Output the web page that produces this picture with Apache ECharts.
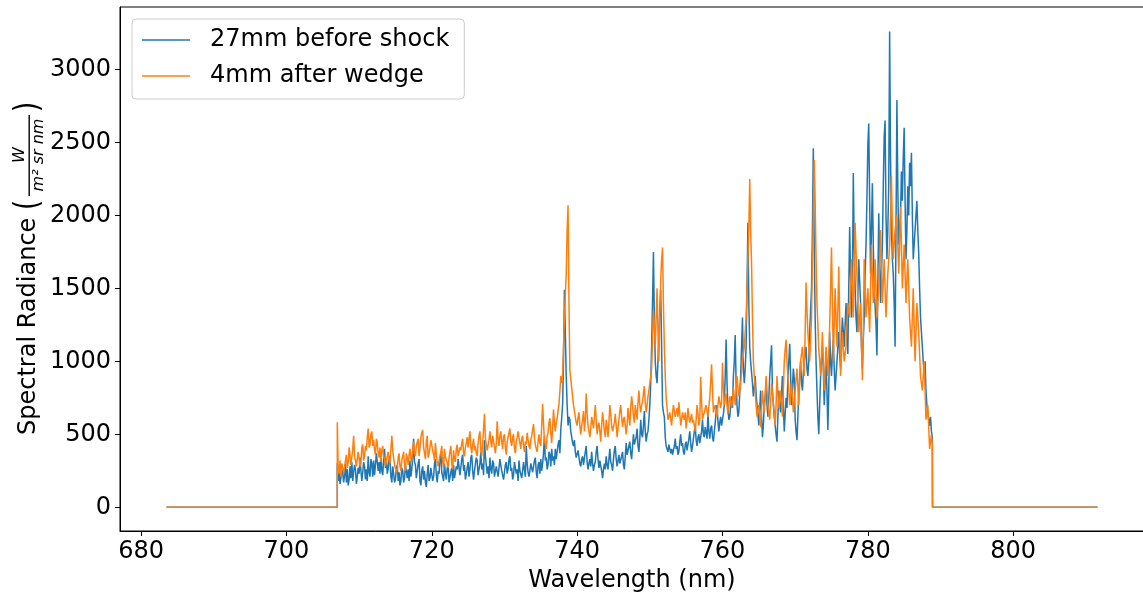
<!DOCTYPE html>
<html><head><meta charset="utf-8">
<script src="https://cdn.jsdelivr.net/npm/echarts@6/dist/echarts.min.js"></script>
<style>html,body{margin:0;padding:0;background:#fff}#c{width:1143px;height:592px}</style>
</head><body><div id="c"></div>
<script>
// Wavelength grid of the measured spectrum (nm)
const WL_START = 707.0;
const WL_STEP = 0.125;
// flat (zero) parts of the recorded range
const FLAT_LEFT = [[683.5, 0], [707.0, 0]];
const FLAT_RIGHT = [[788.9, 0], [811.6, 0]];
const X_TICKS = [680, 700, 720, 740, 760, 780, 800];
const Y_TICKS = [0, 500, 1000, 1500, 2000, 2500, 3000];
const SERIES_NAMES = ['27mm before shock', '4mm after wedge'];

// 27mm before shock, 707.000 .. 788.875 nm (8 values per nm)
const before = [
300,180,250,160,200,290,230,170, 220,300,170,260,150,190,280,200,
310,180,240,290,260,160,210,270, 230,340,250,180,240,310,280,190,
260,180,350,240,210,330,300,210, 320,220,290,370,380,250,310,230,
360,250,220,320,400,270,330,230, 260,350,330,210,170,280,230,170,
190,270,290,180,240,150,180,270, 250,170,200,290,300,200,260,180,
320,210,260,340,470,310,290,200, 210,300,330,180,150,250,280,190,
250,170,140,230,290,180,200,270, 280,180,210,300,330,220,170,250,
230,330,370,240,210,180,300,230, 190,270,300,170,160,240,270,180,
290,200,190,280,260,330,340,220, 230,330,360,250,290,190,180,270,
310,210,260,340,360,250,190,250, 250,340,320,220,210,300,380,260,
300,220,460,350,290,230,280,200, 340,260,230,320,300,210,200,280,
290,210,220,330,340,250,260,190, 200,290,310,230,260,330,350,250,
270,190,220,310,300,230,260,180, 320,250,240,200,250,310,300,210,
420,300,240,210,250,300,310,240, 250,320,340,240,200,290,310,230,
330,250,300,370,490,320,340,260, 290,380,360,280,400,320,350,290,
400,330,320,430,460,370,530,610, 700,1000,1490,1200,900,700,560,620,
600,520,480,440,420,460,380,340, 330,390,400,300,280,330,350,290,
300,380,420,310,260,300,330,280, 380,300,250,290,310,380,420,330,
270,320,330,250,200,260,300,260, 350,290,260,330,400,310,290,250,
330,390,420,330,280,320,360,300, 300,350,380,290,260,350,440,360,
360,420,450,370,330,420,500,430, 420,480,540,420,380,470,600,500,
480,560,660,520,450,500,520,600, 700,850,1100,1400,1750,1300,1000,900,
850,1000,1200,1350,1490,1100,700,650, 620,480,420,400,380,430,440,370,
400,360,350,420,470,400,420,360, 380,450,500,420,440,380,360,430,
450,390,400,470,520,440,380,420, 470,520,560,460,420,480,500,440,
430,520,600,500,480,550,540,470, 650,520,470,540,560,480,450,520,
580,650,700,590,520,580,620,560, 560,640,700,900,1150,850,680,600,
620,700,760,680,900,1000,1180,850, 700,620,650,780,900,1100,1300,950,
850,950,1100,1500,1950,1400,1100,1000, 1000,850,760,820,900,780,700,640,
560,680,800,620,480,560,700,760, 850,700,620,750,900,1000,1110,800,
700,620,560,500,450,620,800,700, 650,780,900,700,520,640,750,680,
880,1000,1120,900,700,820,950,880, 600,520,460,620,800,900,1000,850,
800,920,1000,1050,1100,950,900,1000, 1200,1350,1500,1900,2460,1800,1300,1000,
800,620,500,700,900,1000,1100,950, 700,850,1000,800,530,800,1200,1000,
900,1050,1150,950,800,900,1000,1100, 1200,1050,950,1150,1300,1200,1100,1250,
1400,1200,1050,1500,1920,1600,1300,1450, 2290,1800,1500,1300,1200,1450,1700,1550,
1400,1100,950,1150,1300,1600,1800,2100, 2480,2630,2100,1600,1900,2220,1800,1500,
1500,1250,1040,1500,2015,1700,1400,1600, 1800,2200,2540,2650,2000,1700,1900,2200,
3260,2400,1900,1700,1600,1400,1100,1900, 2790,2200,1800,1900,2000,2300,2100,2400,
2600,2100,1700,1900,2200,2000,2360,2200, 2430,2000,1700,1800,1900,2000,2100,1900,
1740,1500,1300,1200,1100,1000,900,1000, 800,700,650,600,560,620,520,480
];

// 4mm after wedge, 707.000 .. 788.875 nm (8 values per nm)
const after = [
583,250,230,320,210,300,290,230, 230,320,360,270,310,410,360,290,
280,400,490,350,320,280,330,380, 370,280,300,410,430,320,350,420,
390,480,540,410,430,500,520,420, 460,390,360,470,440,370,340,410,
310,390,420,350,330,280,270,350, 380,320,300,400,490,390,340,290,
290,240,260,340,370,280,250,320, 330,380,280,250,370,340,290,360,
400,330,310,410,450,370,350,420, 410,470,350,410,480,510,530,410,
370,330,450,490,340,370,410,460, 470,390,360,320,440,370,310,280,
290,350,380,420,310,270,400,350, 350,300,270,340,380,420,300,260,
390,330,310,400,430,350,340,410, 390,440,470,370,350,410,440,480,
410,470,520,420,370,430,470,390, 420,370,350,440,490,520,390,350,
430,540,640,470,460,390,390,460, 520,450,410,490,480,410,370,440,
590,470,420,490,520,450,400,480, 500,410,360,450,460,510,540,450,
420,480,500,400,370,450,480,520, 520,440,400,470,490,420,380,450,
430,510,500,420,400,460,490,530, 570,480,430,400,380,450,500,440,
420,560,710,570,460,430,400,490, 510,580,610,510,440,540,670,580,
520,580,610,660,710,790,900,850, 900,1100,1300,1450,1600,1900,2070,1400,
940,880,820,760,700,660,620,580, 560,620,650,560,500,560,600,660,
520,600,780,640,560,520,480,540, 620,580,540,620,700,600,500,560,
580,520,450,560,650,590,520,480, 600,550,480,580,700,640,560,520,
520,580,640,560,480,540,600,660, 700,620,550,600,620,560,500,560,
680,620,560,680,760,700,620,580, 700,650,600,720,800,700,650,700,
720,780,830,720,650,700,760,800, 800,900,950,1150,1350,1250,1100,1300,
1500,1200,1000,1300,1550,1700,1780,1400, 1100,900,750,680,600,620,650,600,
560,640,700,660,620,650,680,620, 720,640,560,600,650,620,600,650,
540,600,680,620,580,610,640,580, 600,560,520,600,700,640,560,600,
895,720,600,630,650,680,700,660, 620,690,750,860,980,800,650,680,
700,660,620,700,760,720,680,720, 990,820,700,740,780,700,640,700,
760,720,680,750,820,760,700,800, 900,820,760,800,850,920,1000,1050,
1100,1200,1300,1500,1700,1900,2250,1900, 1670,1300,1000,900,800,700,620,660,
700,620,550,680,800,720,650,760, 900,800,700,650,600,720,850,780,
720,640,560,700,900,780,680,740, 800,700,620,800,1000,1080,1150,1000,
900,800,700,780,850,750,650,720, 800,880,950,820,700,850,1000,1050,
1100,1000,900,1200,1540,1350,1200,1100, 1000,1150,1300,1650,2000,2380,2100,1700,
1400,1250,1080,1000,900,1050,1200,1000, 800,950,1100,1000,900,1050,1250,1500,
1780,1400,1000,1250,1500,1300,1100,1350, 1650,1300,900,1050,1200,1100,1000,1050,
1100,1250,1400,1350,1300,1500,1700,1500, 1300,1600,1950,1750,1600,1400,1200,1300,
1400,1100,870,1200,1700,1500,1300,1400, 1500,1350,1200,1500,1800,1600,1400,1450,
1700,1500,1300,1400,1500,1700,1900,1650, 1400,1550,1700,1500,1300,1450,1600,1700,
1800,2000,2270,1900,1700,1800,1900,1950, 2000,1800,1600,1800,2060,1800,1500,1650,
1800,1600,1400,1550,1700,1500,1300,1200, 1100,1300,1500,1250,1000,1200,1400,1300,
1200,1050,900,850,800,900,1000,800, 600,650,700,550,400,450,500,430
];

function build(vals) {
  const pts = FLAT_LEFT.slice();
  vals.forEach((v, i) => pts.push([+(WL_START + i * WL_STEP).toFixed(4), v]));
  return pts.concat(FLAT_RIGHT);
}

const FONT = 'DejaVu Sans';
const chart = echarts.init(document.getElementById('c'), null, {renderer: 'canvas'});
chart.setOption({
  animation: false,
  backgroundColor: '#fff',
  grid: {left: 120, top: 7, right: -1, bottom: 61, show: true, borderColor: '#000', borderWidth: 1,
         containLabel: false, outerBoundsMode: 'none'},
  xAxis: {
    type: 'value', min: 677.1, max: 818,
    name: 'Wavelength (nm)', nameLocation: 'middle', nameGap: 32,
    nameTextStyle: {fontFamily: FONT, fontSize: 24, color: '#000'},
    axisLine: {show: true, onZero: false, lineStyle: {color: '#000', width: 1}},
    axisTick: {show: true, length: 5, lineStyle: {color: '#000'}, customValues: X_TICKS},
    axisLabel: {fontFamily: FONT, fontSize: 24, color: '#000', margin: 9, customValues: X_TICKS,
                formatter: v => String(v)},
    splitLine: {show: false}
  },
  yAxis: {
    type: 'value', min: -162.5, max: 3428,
    axisLine: {show: true, onZero: false, lineStyle: {color: '#000', width: 1}},
    axisTick: {show: true, length: 5, lineStyle: {color: '#000'}, customValues: Y_TICKS},
    axisLabel: {fontFamily: FONT, fontSize: 24, color: '#000', margin: 9, customValues: Y_TICKS,
                formatter: v => String(v)},
    splitLine: {show: false}
  },
  legend: {
    orient: 'vertical', left: 132, top: 19,
    padding: [7, 15, 9, 10],
    itemWidth: 48, itemHeight: 1.5, itemGap: 8, icon: 'rect',
    backgroundColor: 'rgba(255,255,255,0.8)', borderColor: '#cccccc', borderWidth: 1, borderRadius: 4,
    textStyle: {fontFamily: FONT, fontSize: 24, color: '#000', lineHeight: 28, padding: [0, 0, 0, 15]},
    data: SERIES_NAMES
  },
  series: [
    {name: SERIES_NAMES[0], type: 'line', data: build(before), showSymbol: false, symbol: 'none',
     color: '#1f77b4', lineStyle: {width: 1.5, color: '#1f77b4'}, z: 2, sampling: null},
    {name: SERIES_NAMES[1], type: 'line', data: build(after), showSymbol: false, symbol: 'none',
     color: '#ff7f0e', lineStyle: {width: 1.5, color: '#ff7f0e'}, z: 3, sampling: null}
  ],
  graphic: [{
    type: 'group', x: 29, y: 267, rotation: Math.PI / 2,
    children: [
      {type: 'text', x: -168, y: 0, style: {text: 'Spectral Radiance', fontFamily: FONT, fontSize: 24, fill: '#000', align: 'left', verticalAlign: 'middle'}},
      {type: 'text', x: 57, y: 0, scaleY: 1.3, style: {text: '(', fontFamily: FONT, fontSize: 26, fill: '#000', align: 'left', verticalAlign: 'middle'}},
      {type: 'text', x: 112, y: -9, style: {text: 'W', fontFamily: FONT, fontStyle: 'italic', fontSize: 16, fill: '#000', align: 'center', verticalAlign: 'middle'}},
      {type: 'rect', shape: {x: 71, y: -0.5, width: 81, height: 1.4}, style: {fill: '#000'}},
      {type: 'text', x: 112, y: 10, style: {text: 'm² sr nm', fontFamily: FONT, fontStyle: 'italic', fontSize: 16, fill: '#000', align: 'center', verticalAlign: 'middle'}},
      {type: 'text', x: 155, y: 0, scaleY: 1.3, style: {text: ')', fontFamily: FONT, fontSize: 26, fill: '#000', align: 'left', verticalAlign: 'middle'}}
    ]
  }]
});
</script>
</body></html>
